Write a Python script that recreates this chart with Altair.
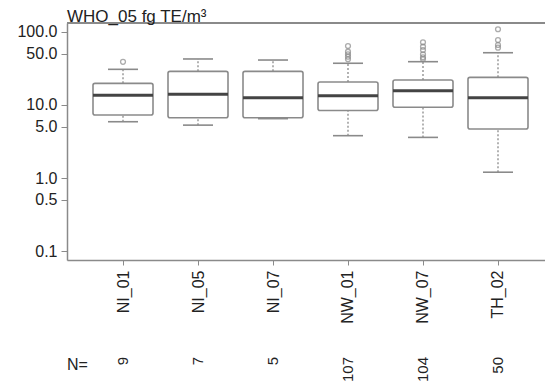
import json
import altair as alt
import pandas as pd

# ---- data ----
cats = ["NI_01", "NI_05", "NI_07", "NW_01", "NW_07", "TH_02"]
n_vals = [9, 7, 5, 107, 104, 50]
whisker_low = [5.9, 5.3, 6.5, 3.8, 3.6, 1.2]
q1 = [7.3, 6.7, 6.7, 8.4, 9.3, 4.7]
median = [13.6, 14.0, 12.6, 13.4, 15.7, 12.6]
q3 = [19.8, 28.9, 28.9, 20.7, 22.0, 23.9]
whisker_high = [30.8, 42.7, 41.3, 37.3, 39.2, 52.0]
outlier_cat = ["NI_01",
               "NW_01", "NW_01", "NW_01", "NW_01", "NW_01",
               "NW_07", "NW_07", "NW_07", "NW_07", "NW_07", "NW_07",
               "TH_02", "TH_02", "TH_02", "TH_02"]
outlier_val = [39.0,
               64.3, 53.7, 49.5, 45.9, 42.3,
               72.3, 62.9, 56.6, 49.4, 45.0, 42.7,
               109.0, 77.6, 66.4, 61.0]
y_ticks = [0.1, 0.5, 1, 5, 10, 50, 100]
title_text = "WHO_05 fg TE/m³"

# ---- layout / style ----
W, H = 478, 237
FONT = "Liberation Sans"
GRAY = "#8a8a8a"
BOX_HALF = 0.4
CAP_HALF = 0.2

idx = list(range(len(cats)))
df = pd.DataFrame({
    "cat": cats, "idx": idx, "n": [str(v) for v in n_vals],
    "lo": whisker_low, "q1": q1, "med": median, "q3": q3, "hi": whisker_high,
})
df["bx0"] = df["idx"] - BOX_HALF
df["bx1"] = df["idx"] + BOX_HALF
df["cx0"] = df["idx"] - CAP_HALF
df["cx1"] = df["idx"] + CAP_HALF

out_df = pd.DataFrame({"cat": outlier_cat, "val": outlier_val})
out_df["idx"] = out_df["cat"].map({c: i for i, c in enumerate(cats)})

xscale = alt.Scale(domain=[-0.7467, 5.6267], nice=False, zero=False)
yscale = alt.Scale(type="log", domain=[0.0753, 132.8], nice=False)

label_expr = json.dumps(cats) + "[datum.value]"
xaxis = alt.Axis(values=idx, labelExpr=label_expr, labelAngle=270, title=None,
                 grid=False, tickSize=5, labelPadding=5, labelFontSize=16,
                 labelFont=FONT, labelColor="#222", domainColor=GRAY,
                 tickColor=GRAY, domainWidth=1.5)
yaxis = alt.Axis(values=y_ticks, format=".1f", title=None, grid=False,
                 tickSize=6, labelPadding=4, labelFontSize=16, labelFont=FONT,
                 labelColor="#222", domainColor=GRAY, tickColor=GRAY,
                 domainWidth=1.5)

base = alt.Chart(df)

whisk_lo = base.mark_rule(color=GRAY, strokeDash=[2, 2], strokeWidth=1.3).encode(
    x=alt.X("idx:Q", scale=xscale, axis=xaxis),
    y=alt.Y("lo:Q", scale=yscale, axis=yaxis),
    y2="q1:Q",
)
whisk_hi = base.mark_rule(color=GRAY, strokeDash=[2, 2], strokeWidth=1.3).encode(
    x=alt.X("idx:Q", scale=xscale), y=alt.Y("q3:Q", scale=yscale), y2="hi:Q",
)
cap_lo = base.mark_rule(color=GRAY, strokeWidth=1.6).encode(
    x=alt.X("cx0:Q", scale=xscale), x2="cx1:Q", y=alt.Y("lo:Q", scale=yscale),
)
cap_hi = base.mark_rule(color=GRAY, strokeWidth=1.6).encode(
    x=alt.X("cx0:Q", scale=xscale), x2="cx1:Q", y=alt.Y("hi:Q", scale=yscale),
)
box = base.mark_rect(fill="white", stroke=GRAY, strokeWidth=1.6, cornerRadius=2).encode(
    x=alt.X("bx0:Q", scale=xscale), x2="bx1:Q",
    y=alt.Y("q1:Q", scale=yscale), y2="q3:Q",
)
med = base.mark_rule(color="#444444", strokeWidth=3).encode(
    x=alt.X("bx0:Q", scale=xscale), x2="bx1:Q", y=alt.Y("med:Q", scale=yscale),
)
outl = alt.Chart(out_df).mark_point(shape="circle", filled=False, size=24,
                                    color=GRAY, strokeWidth=1.3).encode(
    x=alt.X("idx:Q", scale=xscale), y=alt.Y("val:Q", scale=yscale),
)
top_line = base.mark_rule(color=GRAY, strokeWidth=1.5).encode(
    x=alt.value(0), x2=alt.value(W), y=alt.value(0),
)
title = alt.Chart(pd.DataFrame({"t": [title_text]})).mark_text(
    align="left", baseline="alphabetic", fontSize=17, font=FONT, color="#222"
).encode(x=alt.value(0), y=alt.value(-1.5), text="t:N")
n_text = base.mark_text(angle=270, align="right", baseline="middle",
                        fontSize=15, font=FONT, color="#222").encode(
    x=alt.X("idx:Q", scale=xscale), y=alt.value(334), text="n:N",
)
n_head = alt.Chart(pd.DataFrame({"t": ["N="]})).mark_text(
    align="left", baseline="middle", fontSize=16, font=FONT, color="#222"
).encode(x=alt.value(0), y=alt.value(342), text="t:N")

chart = alt.layer(
    whisk_lo, whisk_hi, cap_lo, cap_hi, box, med, outl, top_line,
    title, n_text, n_head,
).properties(
    width=W, height=H,
    autosize=alt.AutoSizeParams(type="none"),
    padding={"left": 59, "top": 15, "right": 0, "bottom": 123},
).configure_view(stroke=None).configure(background="white")

chart.save("out.html", embed_options={"renderer": "svg", "actions": False})
